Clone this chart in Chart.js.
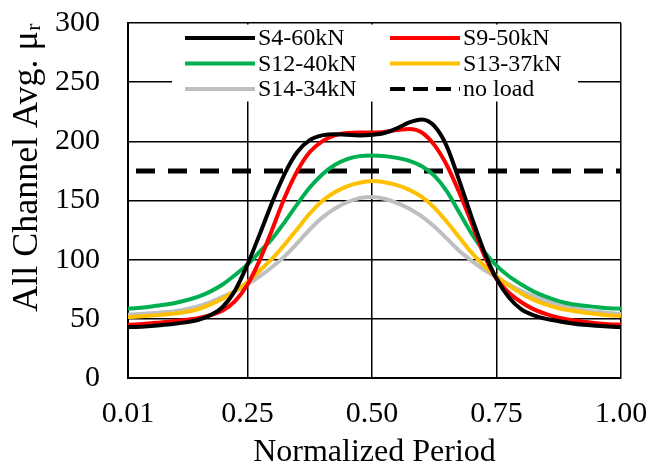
<!DOCTYPE html>
<html>
<head>
<meta charset="utf-8">
<script src="https://cdn.jsdelivr.net/npm/chart.js@4"></script>
<style>
  html, body { margin: 0; padding: 0; background: #fff; }
  #wrap { width: 665px; height: 469px; }
</style>
</head>
<body>
<div id="wrap"><canvas id="chart"></canvas></div>
<script>
// normalized period (x) and the averaged mu_r of each specimen
const period = [0.01, 0.025, 0.05, 0.075, 0.10, 0.125, 0.15, 0.175, 0.20, 0.225, 0.25, 0.275, 0.30, 0.325,
  0.35, 0.375, 0.40, 0.425, 0.45, 0.475, 0.50, 0.525, 0.55, 0.575, 0.60, 0.625, 0.65, 0.675,
  0.70, 0.725, 0.75, 0.775, 0.80, 0.825, 0.85, 0.875, 0.90, 0.925, 0.95, 0.975, 1.00];

const s4 = [43, 43.2, 43.8, 44.6, 45.6, 47, 49, 53, 60, 74, 96, 122, 149, 173,
  191, 201, 205, 206, 205.5, 205, 205.5, 207, 211, 216, 218.5, 213, 196, 167,
  136, 107, 84, 68, 58, 53, 50, 48, 46.3, 45, 44.2, 43.5, 43];
const s9 = [45, 45.3, 46, 47, 48, 49, 50.5, 53, 57, 65, 79, 100, 126, 153,
  175, 191, 200, 205, 207, 207.5, 207.5, 208, 209.5, 210.5, 207.5, 197, 180, 157,
  131, 104, 84, 72, 64, 58, 54, 51, 49, 47.5, 46.3, 45.5, 45];
const s12 = [58.5, 59, 60, 61.5, 63, 65.5, 68.5, 73, 79, 87, 96, 107, 118, 132,
  147, 161, 172, 180, 185, 187.5, 188, 187.5, 186, 183.5, 179, 171, 158, 140,
  122, 107, 95, 86, 79, 73, 68.5, 65, 62.5, 61, 60, 59, 58.5];
const s13 = [51.5, 51.8, 52.5, 53.3, 54.3, 55.8, 58, 62, 67, 73.5, 81, 91, 101, 113,
  126, 139, 149.5, 157, 162, 165, 166.5, 165.5, 163, 159, 153, 144, 132, 119,
  106, 95, 86, 78, 71.5, 66, 62, 59, 57, 55.3, 54, 53, 52.5];
const s14 = [53.5, 53.8, 54.5, 55.3, 56.3, 58, 60.5, 64, 68.5, 73.5, 79, 86, 94, 103,
  114, 125.5, 135.5, 143, 148.5, 152, 153, 151.5, 148, 143, 136.5, 128, 118, 107.5,
  99, 91.5, 85, 79, 73.5, 69, 65, 62, 59.5, 57.5, 56, 55, 54];

const noLoadX = [0.01, 1.00];
const noLoad = [175, 175];

const xTicks = [0.01, 0.25, 0.50, 0.75, 1.00];

function pts(xs, ys) {
  return xs.map((x, i) => ({ x: x, y: ys[i] }));
}

Chart.defaults.font.family = "'Liberation Serif', 'Times New Roman', serif";
Chart.defaults.color = '#000';

// legend sits inside the plot, two columns on a white box
const innerLegend = {
  id: 'innerLegend',
  beforeDatasetsDraw(chart) {
    const ctx = chart.ctx;
    const area = chart.chartArea;
    const boxL = area.left + 44, boxT = area.top + 1.5;
    ctx.save();
    ctx.fillStyle = '#fff';
    ctx.fillRect(boxL, boxT, 406, 77);
    ctx.font = "24px 'Liberation Serif', 'Times New Roman', serif";
    ctx.textBaseline = 'middle';
    ctx.textAlign = 'left';
    const colX = [boxL + 13, boxL + 218];
    chart.data.datasets.forEach((ds, i) => {
      const x = colX[i % 2];
      const y = area.top + 15 + Math.floor(i / 2) * 25.5;
      ctx.strokeStyle = ds.borderColor;
      ctx.lineWidth = 4;
      ctx.setLineDash(ds.borderDash ? [15, 8] : []);
      ctx.beginPath();
      ctx.moveTo(x, y);
      ctx.lineTo(x + 70, y);
      ctx.stroke();
      ctx.setLineDash([]);
      ctx.fillStyle = '#000';
      ctx.fillText(ds.label, x + 73, y + 1);
    });
    ctx.restore();
  }
};

new Chart(document.getElementById('chart'), {
  type: 'line',
  data: {
    datasets: [
      { label: 'S4-60kN', data: pts(period, s4), borderColor: '#000000' },
      { label: 'S9-50kN', data: pts(period, s9), borderColor: '#ff0000' },
      { label: 'S12-40kN', data: pts(period, s12), borderColor: '#00b050' },
      { label: 'S13-37kN', data: pts(period, s13), borderColor: '#ffc000' },
      { label: 'S14-34kN', data: pts(period, s14), borderColor: '#bfbfbf' },
      { label: 'no load', data: pts(noLoadX, noLoad), borderColor: '#000000', borderWidth: 5,
        borderDash: [19, 13], borderDashOffset: 24 }
    ]
  },
  options: {
    responsive: true,
    maintainAspectRatio: false,
    animation: false,
    layout: { padding: { top: 23, right: 44, left: 0, bottom: 0 } },
    elements: {
      point: { radius: 0 },
      line: { borderWidth: 4, cubicInterpolationMode: 'monotone', fill: false }
    },
    plugins: {
      legend: { display: false },
      tooltip: { enabled: false }
    },
    scales: {
      x: {
        type: 'linear',
        min: 0.01,
        max: 1.00,
        afterBuildTicks: s => { s.ticks = xTicks.map(v => ({ value: v })); },
        afterFit: s => { s.height = 91; s.paddingLeft = 0; s.paddingRight = 0; },
        grid: { color: '#000', lineWidth: 1.5, drawTicks: false },
        border: { color: '#000', width: 2 },
        ticks: { font: { size: 30 }, padding: 18, maxRotation: 0, callback: v => v.toFixed(2) },
        title: { display: true, text: 'Normalized Period', font: { size: 32, lineHeight: 1 }, padding: 0 }
      },
      y: {
        min: 0,
        max: 300,
        afterFit: s => { s.width = 128; s.paddingTop = 0; s.paddingBottom = 0; },
        grid: { color: '#000', lineWidth: 1.5, drawTicks: false },
        border: { color: '#000', width: 2 },
        ticks: { stepSize: 50, font: { size: 30 }, padding: 28 },
        title: { display: true, text: 'All Channel Avg. μᵣ', align: 'end', font: { size: 36, lineHeight: 1.2 }, padding: { top: 6, bottom: 0 } }
      }
    }
  },
  plugins: [innerLegend]
});
</script>
</body>
</html>
